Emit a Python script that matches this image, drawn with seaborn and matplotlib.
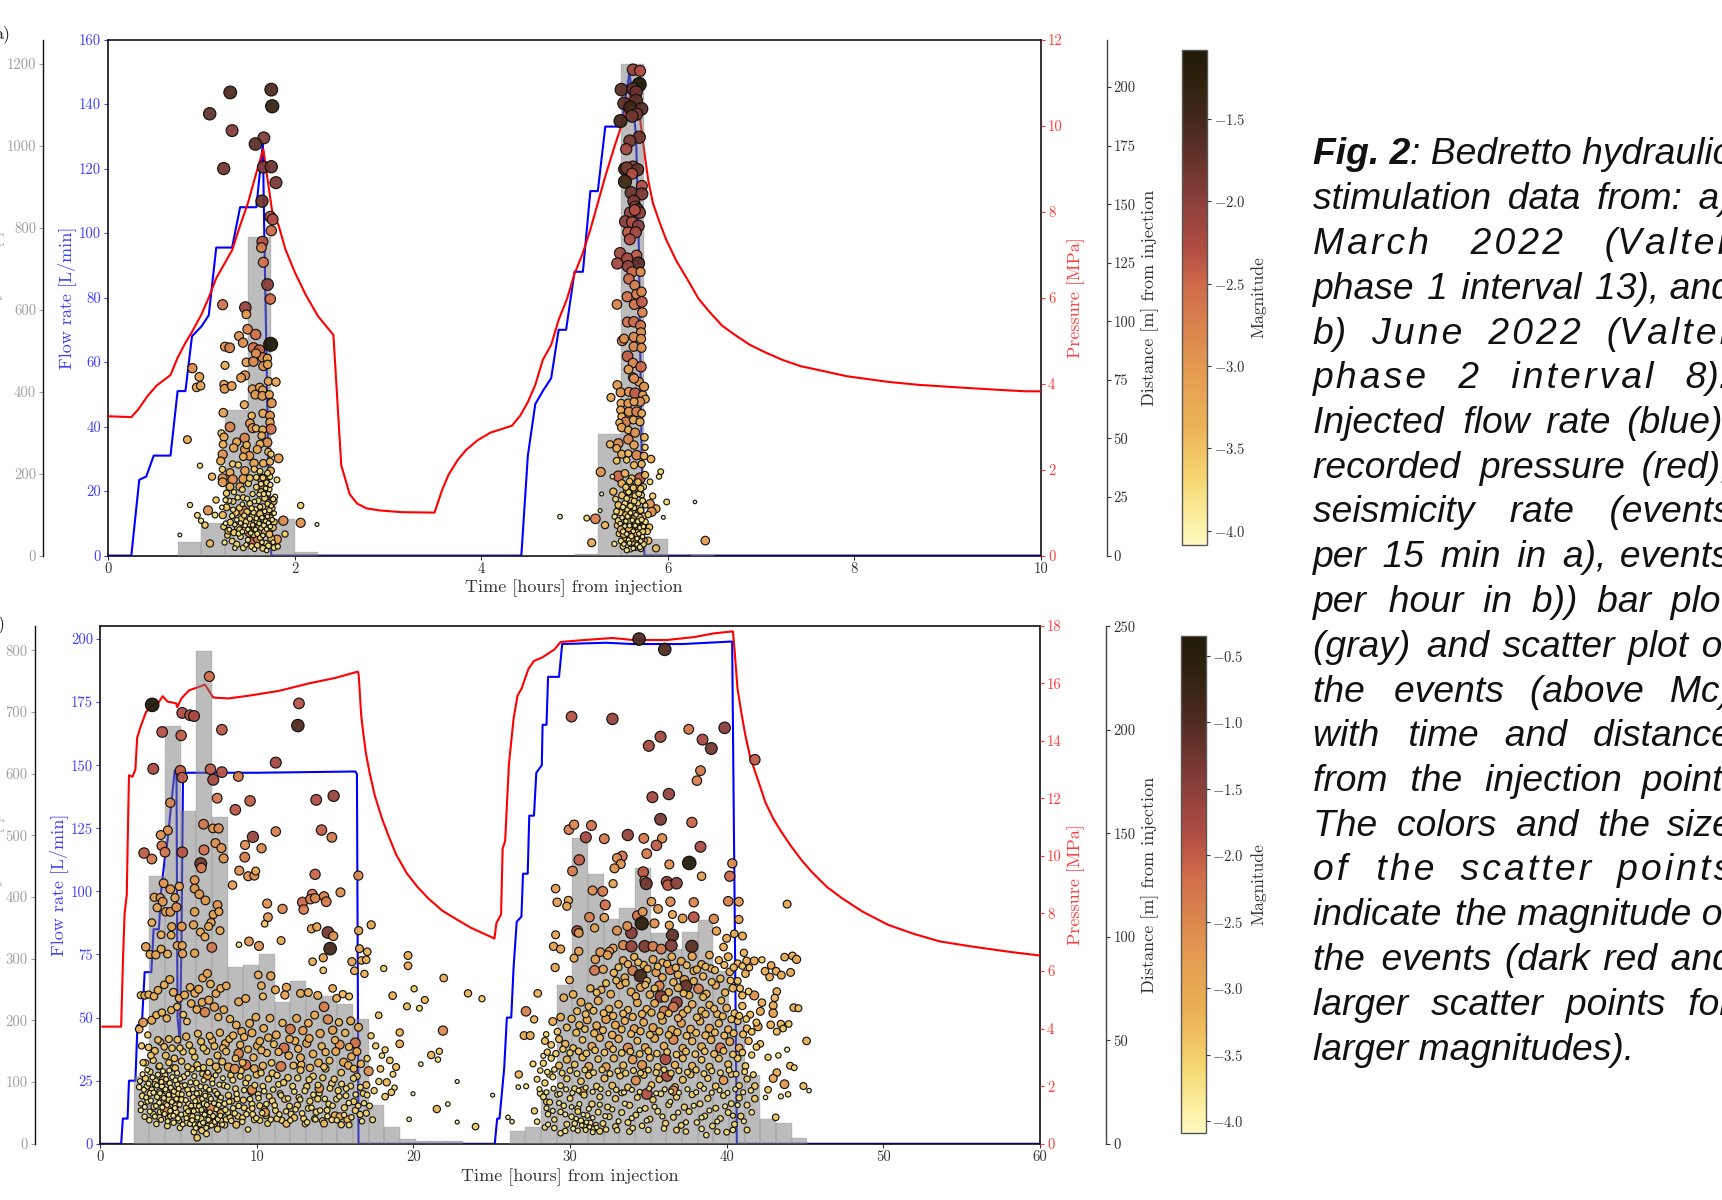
import numpy as np
import pandas as pd
import seaborn as sns
import matplotlib
matplotlib.use("Agg")
import matplotlib.pyplot as plt
from matplotlib.colors import LinearSegmentedColormap, Normalize
from matplotlib.cm import ScalarMappable

# ---------- panel a: hydraulic data ----------
a_flow_t = [0,0.25,0.335,0.41,0.49,0.67,0.746,0.83,0.9,1.0,1.08,1.16,1.33,1.416,1.59,1.66,1.675,1.7,1.72,1.75,4.43,4.5,4.58,4.66,4.75,4.83,4.91,5.0,5.09,5.17,5.25,5.33,5.5,5.59,5.66,5.69,5.72,5.75,10]
a_flow_q = [0,0,23.5,24.5,31,31,51,51,68,71,74.5,95.5,95.5,108,108,128,100,60,25,0,0,31,47,51,55,70,70,88,88,113,113,133,133,150,130,95,30,0,0]
a_pres_t = [0,0.25,0.325,0.42,0.52,0.67,0.746,0.83,0.9,1.0,1.08,1.16,1.33,1.42,1.5,1.59,1.665,1.7,1.76,1.83,1.9,2.0,2.12,2.25,2.416,2.5,2.59,2.67,2.77,2.91,3.15,3.5,3.58,3.65,3.75,3.84,3.96,4.1,4.33,4.42,4.5,4.58,4.66,4.75,4.83,4.92,5.0,5.09,5.17,5.25,5.33,5.42,5.5,5.62,5.7,5.75,5.79,5.84,5.91,5.98,6.09,6.2,6.33,6.45,6.58,6.72,6.88,7.04,7.23,7.43,7.5,7.92,8.36,8.69,9.12,9.5,9.83,10]
a_pres_p = [3.24,3.22,3.4,3.7,3.95,4.2,4.6,4.95,5.2,5.6,6.0,6.45,7.1,7.7,8.2,8.9,9.45,8.9,8.0,7.67,7.13,6.6,6.06,5.57,5.13,2.1,1.43,1.21,1.1,1.05,1.01,1.0,1.52,1.88,2.23,2.46,2.68,2.86,3.02,3.26,3.57,3.97,4.55,4.9,5.48,5.97,6.55,7.04,7.58,8.2,8.82,9.45,9.98,10.9,10.2,9.36,8.73,8.2,7.76,7.36,6.86,6.46,5.97,5.66,5.35,5.13,4.9,4.73,4.55,4.4,4.37,4.17,4.04,3.97,3.91,3.86,3.82,3.82]
a_bin_edges = [0.75,1.0,1.25,1.5,1.75,2.0,2.25,2.5,2.75,3.0,3.25,3.5,3.75,4.0,4.25,4.5,4.75,5.0,5.25,5.5,5.75,6.0,6.25,6.5]
a_bin_counts = [33,80,355,777,89,8,0,0,0,0,0,0,0,0,0,0,0,3,297,1200,40,0,2]

# ---------- panel a: events (time h, distance m, magnitude) ----------
a_upper_1 = [(1.09,188.6,-1.75),(1.31,197.7,-1.6),(1.75,198.9,-1.6),(1.76,191.8,-1.4),(1.33,181.4,-1.95),(1.67,178.3,-1.95),(1.58,175.7,-1.7),(1.24,165.2,-1.85),(1.665,165.8,-1.95),(1.75,166,-1.8),(1.8,159.2,-1.9),(1.65,151.3,-1.8),(1.74,144.6,-2.3),(1.765,143.5,-2.3),(1.75,138.7,-2.5),(1.655,134,-2.3),(1.645,131.5,-2.7),(1.665,125.2,-2.6),(1.71,115.7,-2.0),(1.74,109.5,-2.5)]
a_mid_1 = [(1.229,107.1,-2.6),(1.472,105.9,-2.1),(1.483,103,-3.0),(1.497,96.6,-2.75),(1.583,94.4,-2.55),(1.404,93.7,-2.95),(1.447,90.9,-2.85),(1.743,90.2,-1.08),(1.254,89.2,-2.95),(1.304,88.7,-2.7),(1.558,88.7,-2.55),(1.622,87.7,-2.45),(1.658,84.6,-2.8),(1.586,86.3,-2.9),(1.708,84.2,-3.1),(1.483,82.5,-3.05),(1.558,82.8,-2.8),(1.665,80.9,-2.9),(1.711,81.6,-3.1),(0.904,80,-2.85),(1.254,81.2,-3.2),(0.979,76.3,-3.0),(1.468,76.9,-2.85),(1.426,75.9,-3.0),(1.718,74.4,-3.2),(1.8,74.1,-3.1),(0.95,71.8,-3.05),(0.993,72.5,-3.1),(1.243,73,-3.1),(1.25,71.2,-3.0),(1.326,72.4,-3.0),(1.55,71,-3.0),(1.626,71.8,-3.1),(1.658,70.7,-3.2),(1.579,68.7,-3.0),(1.654,68.2,-3.0),(1.729,68.7,-3.2),(1.461,64.4,-3.2),(1.754,65.1,-2.9),(1.236,61,-3.05),(1.661,60.7,-3.15),(1.736,59.7,-2.95),(1.54,59.7,-3.4),(1.308,54.9,-2.75),(1.522,56.4,-3.0),(1.736,56.9,-3.1),(1.747,54,-2.6),(1.55,54.4,-2.9),(1.586,54.3,-3.4),(1.658,53.7,-3.3),(1.215,52.2,-3.45),(1.243,50.6,-3.2),(0.851,49.5,-3.25),(1.465,50.2,-2.8),(1.647,51.2,-3.3),(1.379,48.5,-3.2),(1.233,47.5,-3.3),(1.708,48.3,-2.9),(1.629,47.6,-3.3),(1.347,46,-3.1),(1.6,45.3,-3.2),(1.468,45.3,-3.0),(1.486,47.2,-3.4),(1.718,44.3,-3.4),(1.229,43.2,-2.9),(1.515,42.6,-3.0),(1.829,41.5,-3.0),(1.45,42.2,-3.3),(1.747,43.3,-3.6),(1.208,40.4,-3.2),(0.986,38.4,-3.8),(1.565,39.4,-3.1),(1.665,39.4,-3.3),(1.736,40.1,-3.4),(1.336,39.1,-3.6),(1.397,38.7,-3.6),(1.226,36.8,-3.6),(1.308,35.5,-3.3),(1.468,36.2,-3.1),(1.568,36.9,-3.6),(1.743,36.2,-3.3),(1.629,36,-3.7),(1.115,33.7,-3.4),(1.229,33,-2.9),(1.336,32.5,-2.85),(1.45,32.7,-3.0),(1.658,32.5,-2.6),(1.736,33.7,-3.7),(1.811,32.3,-3.7),(1.229,31.3,-3.0),(1.308,29.4,-3.3),(1.415,29.4,-3.2),(1.504,30.8,-3.6),(1.672,29.4,-2.7)]
a_low_1 = [(1.586,8.1,-2.4),(1.565,6,-2.5),(1.61,7.4,-2.6),(1.443,19.4,-2.7),(1.718,16.6,-2.7),(1.879,14.9,-2.85),(2.065,14,-2.9),(2.065,21.4,-3.6),(2.24,13.3,-4),(0.879,21.6,-3.8),(0.958,17.2,-3.7),(1.072,19.3,-2.9),(0.997,14.9,-3.8),(1.158,23.7,-3.6),(1.04,13,-3.6),(1.147,17.3,-3.7),(0.77,8.8,-4),(1.093,5.2,-3.4),(1.897,9.2,-3.6),(1.811,6.9,-3),(1.765,23.3,-3.0),(1.52,9.9,-2.8),
 (1.23,17.3,-3.4),(1.27,20.6,-3.5),(1.31,14.2,-3.6),(1.34,23.1,-3.7),(1.37,18.4,-3.5),(1.39,12.1,-3.5),(1.41,20.4,-3.6),(1.43,15.6,-3.5),(1.45,24.8,-3.7),(1.47,10.9,-3.4),(1.49,18.7,-3.6),(1.51,13.6,-3.5),(1.52,22.2,-3.7),(1.54,16.5,-3.6),(1.55,26.3,-3.8),(1.57,11.8,-3.6),(1.58,19.6,-3.7),(1.6,14.7,-3.5),(1.61,23.4,-3.7),(1.62,10.4,-3.7),(1.63,17.8,-3.5),(1.64,27.2,-3.6),(1.65,12.9,-3.4),(1.66,20.9,-3.7),(1.67,15.4,-3.6),(1.68,24.5,-3.6),(1.69,9.6,-3.7),(1.7,18.2,-3.5),(1.71,13.2,-3.6),(1.72,22.6,-3.7),(1.73,28.3,-3.8),(1.74,16.1,-3.6),(1.75,11.4,-3.7),(1.76,20.3,-3.7),(1.78,14.3,-3.6),(1.79,25.1,-3.8),
 (1.28,8.7,-3.7),(1.33,6.2,-3.7),(1.38,4.8,-3.6),(1.42,8.1,-3.7),(1.45,3.3,-3.7),(1.5,6.7,-3.8),(1.54,3.9,-3.7),(1.6,4.4,-3.7),(1.63,7.6,-3.8),(1.66,3.1,-3.7),(1.69,5.4,-3.8),(1.72,4.2,-3.7),(1.75,7.3,-3.5),(1.78,3.4,-3.7),(1.41,11.1,-3.7),(1.24,12.3,-3.7),(1.29,10.6,-3.5),(1.35,9.8,-3.6),(1.48,14.4,-3.7),(1.56,8.9,-3.7),(1.62,12.4,-3.5),(1.68,10.7,-3.4),(1.73,9.1,-3.5),(1.77,11.9,-3.6),(1.44,28.2,-3.7),(1.35,27.1,-3.8),(1.27,26.6,-3.6),(1.59,29.2,-3.7),(1.7,31.1,-3.7),(1.64,30.6,-3.8),(1.52,33.1,-3.5),(1.59,33.4,-3.7)]
a_extra_1 = [(1.26,13.8,-3.9),(1.3,11.1,-3.9),(1.33,16.9,-3.8),(1.36,13.2,-3.9),(1.38,15.3,-3.9),(1.4,9.4,-3.8),(1.42,13.9,-3.9),(1.44,10.2,-3.9),(1.46,17.1,-3.8),(1.47,12.8,-3.9),(1.5,11.2,-3.9),(1.52,15.7,-3.8),(1.53,9.6,-3.9),(1.55,13.1,-3.9),(1.56,18.4,-3.8),(1.58,11.1,-3.9),(1.59,15.9,-3.9),(1.6,9.3,-3.8),(1.62,13.7,-3.9),(1.63,20.8,-3.8),(1.64,11.7,-3.9),(1.65,16.2,-3.9),(1.66,8.6,-3.9),(1.67,12.9,-3.8),(1.68,18.9,-3.9),(1.69,14.7,-3.9),(1.7,11.3,-3.9),(1.71,22.1,-3.8),(1.71,16.7,-3.9),(1.72,13.9,-3.9),(1.73,19.4,-3.8),(1.74,12.4,-3.9),(1.75,21.2,-3.9),(1.76,15.3,-3.9),(1.77,24.1,-3.8),(1.78,18.1,-3.9),(1.67,26.3,-3.8),(1.69,28.7,-3.9),(1.72,26.4,-3.9),(1.74,30.2,-3.8),(1.66,33.2,-3.7),(1.71,35.2,-3.7),(1.62,26.1,-3.9),(1.57,23.1,-3.9),(1.54,20.2,-3.8),(1.49,24.3,-3.8),(1.44,21.9,-3.9),(1.39,24.8,-3.8),(1.34,19.6,-3.8),(1.3,23.4,-3.8),(1.26,23.7,-3.8),(1.22,20.6,-3.9),(1.25,5.6,-3.8),(1.36,3.2,-3.9),(1.48,4.6,-3.9),(1.57,2.7,-3.9),(1.65,5.7,-3.9),(1.7,2.2,-3.9),(1.77,5.7,-3.9),(1.82,3.9,-3.8)]
a_upper_2 = [(5.627,207.4,-2.1),(5.703,206.9,-2.3),(5.694,201.1,-1.08),(5.502,198.9,-1.7),(5.627,199.2,-1.7),(5.66,197.9,-1.8),(5.531,193,-1.7),(5.66,194.3,-1.7),(5.598,191.3,-1.45),(5.718,190.7,-1.65),(5.665,188.4,-1.9),(5.617,187.6,-1.8),(5.493,185.5,-1.5),(5.694,178.6,-1.8),(5.593,177,-1.9),(5.555,173.5,-2.2),(5.541,165,-1.6),(5.627,166,-2.1),(5.56,165.5,-1.9),(5.675,164.7,-1.75),(5.617,163,-2.3),(5.541,159.6,-1.45),(5.722,157.8,-2.3),(5.608,154.9,-1.8),(5.722,154.4,-1.9),(5.636,151.3,-1.9),(5.651,148.9,-2.1),(5.675,147.7,-1.9),(5.598,146.4,-2.1),(5.699,146.4,-2.1),(5.646,147.5,-2.3),(5.545,142.6,-2.0),(5.617,142.3,-2.3),(5.684,140.7,-2.0),(5.574,138,-2.4),(5.656,138,-2.2),(5.593,135,-2.3),(5.488,129.1,-2.2),(5.665,128.1,-2.4),(5.459,124.7,-2.2),(5.565,126.8,-2.2),(5.684,124.8,-1.7),(5.574,123.5,-2.1),(5.617,121.1,-2.5),(5.708,121.1,-2.9),(5.583,118.1,-2.5),(5.646,115.4,-2.7),(5.565,110.5,-2.6),(5.665,111.6,-2.7),(5.718,112.6,-2.8),(5.455,107.2,-2.75),(5.641,107.2,-2.6),(5.722,108.3,-2.4),(5.727,103.8,-2.8),(5.569,99.7,-2.6),(5.636,99.8,-2.5),(5.708,98.2,-2.6),(5.713,95.3,-2.9),(5.512,91.7,-2.7),(5.531,92.6,-2.9),(5.636,93.3,-2.8),(5.713,92.5,-2.9),(5.636,89.2,-2.8),(5.718,88.7,-2.9),(5.569,85.1,-2.4),(5.627,82.2,-2.8),(5.579,79.4,-3.0),(5.713,80.6,-2.5),(5.627,76.1,-2.9)]
a_mid_2 = [(5.459,72.8,-3.0),(5.495,69.7,-2.9),(5.391,67.5,-3.2),(5.691,74.2,-3.0),(5.745,72.1,-2.9),(5.638,75.6,-2.85),(5.584,69.9,-2.95),(5.649,69.3,-2.4),(5.731,68.5,-3.1),(5.759,66.8,-3.2),(5.702,65.7,-2.9),(5.499,65,-3.2),(5.577,65,-3.0),(5.638,65.7,-3.2),(5.495,62.1,-3.2),(5.584,61.4,-2.9),(5.666,61.4,-2.7),(5.72,60.7,-3.3),(5.506,59.3,-3.3),(5.552,57.1,-2.7),(5.481,56.7,-3.4),(5.631,57.9,-3.2),(5.702,57.1,-3.2),(5.506,54.7,-3.1),(5.577,53.6,-3.3),(5.649,52.5,-2.9),(5.749,50.5,-3.3),(5.381,47.5,-3.4),(5.47,47.9,-2.8),(5.577,49.6,-2.8),(5.638,47.2,-3.1),(5.756,46.2,-3.6),(5.452,45.8,-3.3),(5.506,43.3,-3.2),(5.577,43.6,-3.4),(5.666,42.9,-2.8),(5.745,42.5,-3.3),(5.452,40.5,-3.5),(5.559,40.8,-3.6),(5.638,38.6,-3.4),(5.72,39.1,-3.4),(5.82,41.2,-3.3),(5.281,35.7,-2.9),(5.47,33.9,-2.5),(5.406,33.7,-3.9),(5.924,35.8,-3.7),(5.906,33.7,-3.8),(5.702,33,-2.4),(5.541,35.1,-3.3),(5.613,33,-3.5),(5.756,34.4,-3.4),(5.809,31.5,-3.7),(5.838,25.4,-3.6),(5.291,26.3,-4),(5.577,27.7,-2.8),(5.416,27.3,-3.4),(5.666,29.4,-2.9),(5.506,30.8,-3.3),(5.738,29.4,-3.6),(5.988,22.9,-3.7),(6.291,22.9,-4.05),(5.274,19.2,-4),(5.874,20,-3.2),(5.809,22,-2.95),(5.827,18.7,-2.9),(5.952,16.3,-4),(5.131,16,-3.7),(4.845,16.6,-3.9),(5.224,15.7,-2.75),(5.327,13,-3.4),(5.802,12.1,-3.5),(5.184,5.5,-3.2),(5.874,3.1,-3.4),(6.402,6.4,-3.05),(5.791,6.4,-3.4),(5.427,5,-3.8)]
a_low_2 = [(5.44,24.1,-3.7),(5.47,21.6,-3.5),(5.49,18.4,-3.6),(5.51,25.7,-3.5),(5.53,15.2,-3.3),(5.54,22.3,-3.7),(5.56,12.6,-3.2),(5.57,19.4,-3.6),(5.58,27.1,-3.7),(5.59,9.7,-3.1),(5.6,16.3,-3.3),(5.61,23.6,-3.6),(5.62,13.4,-3.5),(5.63,20.1,-3.7),(5.64,7.6,-3.6),(5.65,25.5,-3.6),(5.66,11.1,-3.4),(5.67,17.7,-3.5),(5.68,22.4,-3.7),(5.69,14.5,-3.6),(5.7,8.9,-3.7),(5.71,19.3,-3.6),(5.72,25.8,-3.7),(5.73,12.4,-3.5),(5.74,16.9,-3.6),(5.75,6.5,-3.7),(5.76,21.4,-3.8),(5.78,10.3,-3.6),(5.46,12.9,-3.6),(5.48,9.4,-3.6),(5.5,6.2,-3.7),(5.52,3.9,-3.7),(5.55,7.7,-3.5),(5.57,4.6,-3.7),(5.59,14.6,-3.4),(5.6,2.8,-3.7),(5.61,10.9,-3.3),(5.62,5.7,-3.6),(5.63,8.4,-3.4),(5.65,3.4,-3.7),(5.66,6.9,-3.7),(5.68,4.3,-3.7),(5.69,11.6,-3.4),(5.71,2.9,-3.7),(5.72,7.4,-3.6),(5.74,4.9,-3.7),(5.43,16.6,-3.8),(5.45,18.9,-3.7),(5.47,14.9,-3.6),(5.5,11.2,-3.4),(5.53,9.1,-3.4),(5.55,17.3,-3.5),(5.58,11.8,-3.3),(5.6,7.3,-3.3),(5.62,18.5,-3.5),(5.64,15.7,-3.4),(5.66,13.9,-3.3),(5.67,9.6,-3.3),(5.7,16.2,-3.5),(5.73,10.2,-3.6),(5.76,14.4,-3.7),(5.79,17.5,-3.6)]
a_extra_2 = [(5.49,13.7,-3.9),(5.51,16.2,-3.9),(5.52,10.3,-3.8),(5.54,12.6,-3.9),(5.55,14.7,-3.9),(5.56,9.2,-3.9),(5.57,16.7,-3.8),(5.58,6.7,-3.9),(5.59,12.8,-3.9),(5.6,18.2,-3.9),(5.61,8.3,-3.8),(5.62,15.1,-3.9),(5.63,10.4,-3.9),(5.64,20.3,-3.8),(5.65,12.8,-3.9),(5.66,17.4,-3.9),(5.67,7.3,-3.9),(5.68,14.6,-3.8),(5.69,9.3,-3.9),(5.7,11.9,-3.9),(5.71,6.2,-3.9),(5.72,15.3,-3.8),(5.73,8.1,-3.9),(5.74,12.4,-3.9),(5.53,4.9,-3.9),(5.56,2.3,-3.8),(5.59,5.3,-3.9),(5.63,3.1,-3.9),(5.67,4.7,-3.9),(5.7,3.6,-3.8),(5.52,20.7,-3.8),(5.56,24.4,-3.7),(5.6,21.2,-3.7),(5.64,23.3,-3.7),(5.69,26.4,-3.7),(5.73,23.4,-3.7),(5.55,29.2,-3.6),(5.59,31.7,-3.6),(5.63,28.9,-3.6),(5.68,31.4,-3.5),(5.71,28.6,-3.6)]

# ---------- panel b: hydraulic data ----------
b_flow_t = [0,1.35,1.46,1.76,1.85,2.26,2.39,2.67,2.85,3.28,3.42,3.76,3.9,4.17,4.31,4.77,4.88,4.95,5.1,5.2,5.3,5.5,10,16.3,16.4,16.5,25.2,25.35,25.5,25.8,25.97,26.25,26.4,26.6,26.9,27.0,27.3,27.4,27.7,27.85,28.2,28.25,28.5,28.6,29.3,29.5,32.3,34,37.2,40.35,40.5,40.65,60]
b_flow_q = [0,0,10,10,25,25,47,47,68,68,85,85,100,115,120,148,148,50,40,80,146,147,147,147.5,146.5,0,0,10,10,30,50,50,70,88,90,107,107,130,130,147,150,166,166,185,185,198,198.5,198,198,199,100,0,0]
b_pres_t = [0.14,1.35,1.46,1.57,1.71,1.76,1.85,2.07,2.26,2.37,2.6,2.94,3.4,3.74,4.0,4.31,4.86,4.93,5.2,5.68,6.25,6.7,7.23,8.2,9.55,11.4,13.4,15,16.45,16.51,16.58,16.67,16.81,16.97,17.2,17.54,17.99,18.45,18.9,19.59,20.27,20.96,21.87,22.78,23.69,25.18,25.3,25.6,25.7,25.86,26.1,26.4,26.65,26.9,27.35,27.7,28.25,29,29.4,30.7,32.7,34,36.2,37.9,39.2,40.4,40.52,40.69,40.92,41.18,41.5,41.99,42.48,42.97,43.46,44.12,44.77,45.42,46.4,47.39,48.69,50.33,51.96,53.6,55.56,58.17,60]
b_pres_p = [4.07,4.07,6.26,8.0,8.66,10.25,12.8,12.75,13.0,14.1,14.5,15.0,15.25,15.33,15.55,15.36,15.3,15.17,15.47,15.75,15.86,15.95,15.5,15.47,15.57,15.73,16.0,16.18,16.4,16.3,15.7,14.9,14.24,13.58,12.91,12.1,11.31,10.65,10.05,9.39,8.92,8.52,8.09,7.79,7.5,7.13,7.66,7.97,10.25,10.52,13.18,14.77,15.57,15.8,16.5,16.77,16.9,17.17,17.43,17.49,17.57,17.5,17.5,17.6,17.73,17.8,17.03,15.83,15.03,14.23,13.43,12.65,11.85,11.3,10.86,10.33,9.86,9.45,8.92,8.52,8.06,7.6,7.29,7.03,6.86,6.66,6.54]
b_bin_edges = [2.15,3.15,4.15,5.15,6.15,7.15,8.15,9.15,10.15,11.15,12.15,13.15,14.15,15.15,16.15,17.15,18.15,19.15,20.15,21.15,22.15,23.15,24.15,25.15,26.15,27.15,28.15,29.15,30.15,31.15,32.15,33.15,34.15,35.15,36.15,37.15,38.15,39.15,40.15,41.15,42.15,43.15,44.15,45.15]
b_bin_counts = [110,434,677,540,799,529,287,290,307,230,264,240,239,227,202,63,27,8,4,4,4,0,0,0,20,27,87,258,496,437,364,383,447,341,316,344,363,280,199,112,41,34,9]

# ---------- panel b: events (time h, distance m, magnitude) ----------
b_strong_1 = [(3.33,212.1,-0.36),(6.98,225.8,-2.2),(12.7,212.8,-1.9),(12.63,202.1,-1.0),(5.25,208.2,-1.85),(5.75,207.1,-1.9),(6.0,206.7,-1.8),(7.78,200.1,-1.95),(3.97,199,-1.9),(5.18,197.3,-2.0),(11.22,184.2,-1.75),(3.4,181.2,-1.8),(5.13,180.3,-2.0),(5.25,177,-2.0),(7.05,181,-2.0),(7.78,179.6,-1.9),(7.23,175.9,-1.75),(8.83,177.5,-2.3),(7.48,167,-2.3),(9.58,165.7,-2.0),(13.8,166.2,-1.85),(14.91,168.1,-1.65),(4.49,164.8,-2.5),(8.64,161.4,-1.95),(6.61,154.4,-2.3),(4.33,151.4,-2.6),(7.21,152.4,-2.7),(7.57,152.4,-2.5),(3.88,149.2,-2.6),(11.22,150.9,-2.4),(14.14,151.6,-2.0),(14.8,148.1,-2.3),(9.76,148.3,-1.65),(7.37,145.3,-2.6),(9.26,144.4,-2.6),(10.31,142.8,-2.5),(7.75,142.9,-2.6),(3.95,144,-2.3),(4.15,140.9,-2.3),(2.81,140.5,-2.0),(6.64,142,-2.2),(5.25,140.9,-1.95),(7.89,137.9,-2.6),(3.31,137.6,-2.3),(9.24,138.5,-2.3),(6.43,135.4,-1.3),(6.47,133.3,-2.4),(8.89,132,-2.6),(9.46,129.3,-2.6),(9.85,129.6,-2.6),(9.94,131.8,-3.0),(13.73,130.2,-2.1),(16.49,129.6,-2.55)]
b_mid_1 = [(6.04,127.4,-2.7),(4.06,125.9,-2.7),(5.06,124.4,-2.9),(6.04,123.3,-2.7),(8.46,125,-2.8),(4.49,123,-2.7),(6.34,120.6,-2.7),(3.47,119.1,-2.9),(3.84,118.9,-2.9),(4.0,117,-2.7),(4.79,118.9,-2.9),(6.73,117.6,-2.7),(7.5,115.4,-2.7),(10.67,116.1,-2.6),(11.65,113.5,-2.5),(13.55,120.6,-2.3),(14.3,119.5,-2.4),(15.35,121.5,-2.6),(12.93,116.7,-2.1),(13.43,118.2,-2.4),(13.73,118.7,-2.5),(14.44,117,-2.3),(13,113.2,-2.4),(10.72,109.5,-2.7),(3.65,114.1,-2.9),(4.2,112.1,-2.8),(4.49,112.1,-2.7),(4.88,114.3,-2.6),(6.04,112.1,-2.8),(7.23,110.8,-2.9),(7.59,112.2,-3.0),(10.51,106.3,-3.4),(3.31,106.9,-3.1),(7.09,106.9,-2.9),(5.97,105.8,-2.9),(5.22,105,-2.7),(4.58,104.9,-2.9),(7.66,103,-3.0),(6.93,105,-3.0),(17.31,105.8,-2.9),(16.51,103,-2.9),(13.5,103.9,-2.9),(13.84,104.8,-2.9),(14.55,102.1,-1.35),(14.89,100.4,-2.6),(14.69,94.3,-0.9),(3.9,101,-3.1),(4.54,100.8,-3.1),(6.41,102.3,-3.0),(6.7,100,-3.0),(7.14,94.9,-2.3),(2.92,95.2,-2.8),(3.9,94.1,-3.0),(4.93,95.8,-3.0),(5.25,95.8,-3.0),(5.27,91.9,-2.9),(3.19,91.5,-3.0),(3.56,91.3,-2.9),(4.31,91.7,-3.0),(6.04,92.1,-2.9),(8.87,96.2,-3.7),(9.51,97.8,-2.7),(10.15,95.6,-2.6),(11.56,98.2,-3.0),(14.25,89.9,-2.9),(13.57,88,-3.1),(14.25,83.8,-3.4),(16.56,94.3,-3.0),(17.06,92.8,-3.1),(16.69,88.6,-3.1),(16.99,88.9,-3.1),(16.08,88,-2.9)]
b_tail_1 = [(19.66,91,-3.0),(19.66,86,-3.1),(18.11,84.7,-3.5),(16.24,83.6,-3.1),(16.88,82.1,-3.2),(21.94,80.1,-3.1),(20.05,74.9,-3.5),(23.49,72.7,-3.2),(24.38,70.1,-3.5),(20.73,69.5,-3.3),(18.68,71.6,-3.1),(19.59,66.4,-3.3),(20.39,65.5,-3.6),(17.79,62.1,-3.4),(21.89,54.7,-2.5),(19.13,53.8,-3.2),(19.13,48.3,-3.1),(21.14,42.9,-3.2),(21.66,44.7,-3.5),(21.57,40.7,-3.7),(20.48,38.5,-3.9),(19.98,24.2,-4.0),(22.8,30.1,-4.0),(21.5,16.8,-3.2),(22.2,19.2,-3.9),(25.06,23.5,-4.0),(22.8,10.5,-4.0),(19.73,11.8,-3.9),(23.97,8.3,-3.4),(18.2,45.4,-3.5),(18.5,40.3,-3.4),(18.9,37.1,-3.3),(18.0,42.6,-3.7),(18.7,33.6,-3.6),(18.3,29.7,-3.2),(18.8,27.1,-3.7),(18.6,24.9,-3.4),(18.2,22.8,-3.4),(17.9,36.2,-3.4),(17.6,47.3,-3.5),(17.3,52.2,-3.5),(17.8,30.1,-3.5),(17.5,25.7,-3.5),(17.2,18.3,-3.6),(17.0,14.8,-3.5),(17.4,11.6,-3.6)]
b_band_1 = [(2.6,71.8,-3.3),(2.85,71.7,-3.1),(3.1,72.1,-3.2),(3.45,71.3,-3.1),(3.7,74.2,-3.1),(4.1,76.8,-3.1),(4.45,79.4,-3.0),(4.68,73.2,-3.0),(5.05,70.3,-3.1),(5.4,71.9,-3.0),(5.75,75.6,-3.1),(6.05,72.8,-3.0),(6.3,74.7,-3.0),(6.55,80.1,-3.0),(6.85,82.3,-2.9),(7.05,77.2,-3.1),(7.4,72.6,-3.1),(7.7,75.1,-3.1),(8.06,76.3,-3.1),(8.85,68.6,-3.0),(9.3,70.2,-3.0),(10.1,81.6,-3.1),(10.3,76.4,-3.1),(10.4,71.2,-3.3),(10.9,81.1,-2.9),(11.2,74.4,-3.0),(11.9,75.6,-2.9),(11.8,71.9,-2.9),(12.8,72.7,-3.0),(13.3,73.1,-3.0),(13.9,71.7,-3.0),(14.3,66.2,-2.4),(14.85,75.1,-3.1),(15.1,70.3,-3.1),(15.5,72.3,-3.2),(15.9,71.2,-3.3),
 (2.5,55.4,-3.1),(2.75,58.6,-2.7),(3.05,52.6,-3.5),(3.3,59.7,-3.0),(3.6,62.2,-3.2),(3.95,63.4,-3.2),(4.26,60.6,-3.2),(4.55,64.6,-3.2),(4.92,66.2,-3.3),(5.32,62.4,-3.4),(5.55,59.1,-3.4),(5.82,67.8,-3.1),(6.18,64.9,-3.1),(6.52,68.4,-3.0),(6.7,63.6,-2.4),(6.95,69.4,-2.9),(7.3,66.1,-2.8),(7.55,61.2,-3.2),(7.9,64.8,-3.1),(8.3,60.3,-3.2),(8.7,57.4,-3.1),(9.05,54.3,-3.0),(9.55,58.2,-3.0),(9.95,61.2,-3.1),(10.45,55.8,-3.1),(10.85,60.7,-3.1),(11.25,52.6,-3.0),(11.65,58.4,-3.2),(12.15,55.4,-2.3),(12.55,60.6,-3.0),(12.95,54.7,-2.9),(13.3,58.3,-3.1),(13.7,62.2,-3.0),(14.05,53.3,-2.9),(14.55,60.1,-2.5),(14.85,54.9,-2.9),(15.25,58.7,-3.2),(15.65,53.6,-3.2),(16.0,59.4,-3.0),(16.3,48.7,-2.2),(16.5,56.3,-3.0),(15.3,47.9,-2.6),(13.2,48.6,-2.9),(11.75,46.3,-2.2),(10.05,47.3,-3.0),(8.85,43.6,-2.4),(8.0,48.4,-3.0),
 (2.65,47.3,-3.5),(3.1,46.6,-3.4),(3.5,44.9,-3.3),(3.85,49.3,-3.4),(4.2,42.6,-3.3),(4.6,46.2,-3.4),(4.95,50.3,-3.3),(5.3,44.4,-3.5),(5.7,47.7,-3.4),(6.05,41.9,-3.5),(6.45,49.4,-3.3),(6.8,44.8,-3.4),(7.15,50.1,-3.2),(7.5,42.7,-3.3),(7.85,46.2,-3.3),(8.25,50.6,-3.3),(8.65,41.3,-3.4),(9.3,38.1,-2.2),(9.45,45.6,-3.3),(9.8,41.7,-3.2),(10.2,49.6,-3.1),(10.65,43.9,-3.2),(11.1,48.1,-3.3),(11.55,37.4,-2.3),(12.05,42.6,-3.1),(12.45,49.7,-3.1),(12.85,38.2,-3.2),(13.6,43.4,-3.1),(14.15,47.1,-3.2),(14.65,40.2,-3.3),(15.05,44.6,-3.0),(15.55,39.4,-2.9),(16.05,42.1,-3.1),(16.65,38.6,-3.2),(17.15,35.1,-2.6),(17.05,41.2,-3.5)]
b_dense_1 = [(2.5,27.4,-3.7),(2.7,23.1,-3.6),(2.9,31.6,-3.5),(3.05,20.6,-3.6),(3.2,34.8,-3.6),(3.3,26.2,-3.7),(3.45,17.9,-3.5),(3.55,30.4,-3.6),(3.65,22.7,-3.7),(3.75,37.2,-3.6),(3.85,15.4,-3.6),(3.95,27.8,-3.7),(4.05,20.4,-3.6),(4.15,33.1,-3.6),(4.25,24.9,-3.5),(4.35,12.6,-3.7),(4.45,29.3,-3.7),(4.55,18.2,-3.7),(4.65,36.7,-3.6),(4.75,23.6,-3.6),(4.85,15.3,-3.6),(4.95,28.7,-3.7),(5.05,11.2,-3.7),(5.2,21.4,-3.6),(5.35,32.4,-3.6),(5.5,17.3,-3.6),(5.6,26.1,-3.6),(5.72,13.4,-3.6),(5.85,36.1,-3.5),(5.95,22.3,-3.6),(6.05,9.3,-3.6),(6.15,29.4,-3.6),(6.25,16.7,-3.5),(6.35,24.6,-3.7),(6.45,12.1,-3.6),(6.55,33.8,-3.6),(6.65,19.4,-3.6),(6.75,27.3,-3.7),(6.85,14.2,-3.5),(6.95,22.6,-3.6),(7.05,10.3,-3.6),(7.15,31.2,-3.6),(7.25,17.8,-3.6),(7.35,25.4,-3.7),(7.45,12.9,-3.6),(7.55,35.7,-3.5),(7.65,20.8,-3.6),(7.75,15.6,-3.6),(7.9,28.3,-3.6),(8.05,11.7,-3.6),(8.2,23.4,-3.5),(8.35,33.1,-3.5),(8.5,17.2,-3.7),(8.65,26.6,-3.6),(8.8,13.4,-3.5),(9.0,35.3,-3.4),(9.15,21.1,-3.5),(9.3,29.4,-3.6),(9.5,15.9,-3.6),(9.65,24.9,-3.5),(9.85,11.6,-3.6),(10.0,33.4,-3.3),(10.2,18.4,-3.5),(10.4,27.8,-3.6),(10.6,13.7,-3.4),(10.8,22.9,-3.6),(11.0,34.1,-3.4),(11.2,16.1,-3.6),(11.4,28.7,-3.6),(11.6,11.4,-3.5),(11.8,21.6,-3.4),(12.0,31.9,-3.4),(12.2,14.3,-3.5),(12.4,25.2,-3.7),(12.6,18.6,-3.5),(12.8,35.6,-3.3),(13.0,12.2,-3.6),(13.2,27.7,-3.5),(13.4,20.6,-3.5),(13.6,32.6,-3.4),(13.8,15.3,-3.5),(14.0,24.4,-3.6),(14.2,11.1,-3.5),(14.4,36.3,-3.3),(14.6,19.2,-3.6),(14.8,29.1,-3.4),(15.0,13.6,-3.1),(15.2,25.7,-3.5),(15.4,34.4,-3.4),(15.6,17.4,-3.5),(15.8,11.7,-3.2),(16.0,27.9,-3.6),(16.2,20.4,-3.5),(16.4,32.6,-3.4),(16.6,14.2,-3.5),(16.8,24.3,-3.6),(17.0,28.4,-3.3),
 (2.6,16.2,-3.8),(2.85,13.1,-3.7),(3.15,11.4,-3.7),(3.4,14.3,-3.6),(3.6,9.6,-3.7),(3.8,12.7,-3.6),(4.1,15.8,-3.3),(4.3,8.7,-3.6),(4.5,13.4,-3.6),(4.7,10.2,-3.7),(4.9,18.9,-3.3),(5.1,7.7,-3.7),(5.55,10.3,-3.6),(5.8,15.9,-3.7),(6.0,5.7,-3.6),(6.2,2.9,-3.4),(6.3,9.3,-3.6),(6.5,6.4,-3.5),(6.6,15.1,-3.5),(6.8,4.8,-3.6),(6.9,8.6,-3.6),(7.1,13.3,-3.3),(7.3,9.7,-3.6),(7.5,7.1,-3.5),(7.7,14.8,-3.3),(7.95,9.1,-3.5),(8.3,12.7,-3.6),(8.7,9.2,-3.3),(9.1,12.6,-3.6),(9.45,6.9,-3.7),(9.75,14.2,-3.6),(10.2,11.3,-3.6),(10.7,9.8,-3.6),(11.3,12.2,-3.5),(11.9,9.7,-3.3),(12.4,12.6,-3.4),(13.1,9.6,-3.6),(13.7,12.1,-3.5),(14.3,9.8,-3.3),(14.8,11.6,-3.6),(15.3,13.2,-3.2),(15.4,9.2,-3.5),(15.9,9.1,-3.6),
 (3.0,27.7,-3.6),(3.2,24.4,-3.6),(3.5,28.8,-3.7),(3.8,25.1,-3.6),(4.0,23.2,-3.6),(4.2,19.3,-3.7),(4.4,21.4,-3.5),(4.6,26.1,-3.6),(4.8,18.6,-3.7),(5.0,24.3,-3.6),(5.25,27.9,-3.6),(5.45,14.4,-3.6),(5.65,19.4,-3.7),(5.9,13.2,-3.7),(6.1,18.6,-3.7),(6.3,21.2,-3.6),(6.5,15.4,-3.7),(6.7,24.1,-3.6),(6.9,18.1,-3.6),(7.1,20.3,-3.6),(7.3,14.4,-3.6),(7.5,23.8,-3.6),(7.7,11.2,-3.6),(7.95,19.4,-3.7),(8.15,15.2,-3.6),(8.4,20.6,-3.6),(8.75,21.7,-3.6),(9.2,17.4,-3.6),(9.7,19.2,-3.6),(10.1,23.9,-3.6),(10.5,16.6,-3.5),(11.0,20.7,-3.5),(11.5,24.3,-3.6),(12.1,18.2,-3.6),(12.7,22.4,-3.6),(13.3,17.1,-3.6),(13.9,21.7,-3.5),(14.5,16.2,-3.6),(15.1,21.6,-3.6),(15.7,23.2,-3.6),(16.3,16.1,-3.5),(4.3,16.4,-2.6),(4.05,30.7,-2.8),(7.1,17.2,-2.6),(6.85,32.9,-2.9),(9.7,26.1,-2.6),(10.55,15.2,-2.9),(14.0,26.8,-2.8),
 (2.9,39.1,-3.4),(3.4,40.3,-3.5),(3.8,37.6,-3.5),(4.4,39.2,-3.5),(4.8,36.6,-3.4),(5.2,39.9,-3.5),(5.6,37.2,-3.5),(6.2,38.1,-3.4),(6.6,36.8,-3.5),(7.0,39.4,-3.3),(7.4,37.3,-3.2),(7.8,39.7,-3.3),(8.2,37.1,-2.9),(8.6,36.2,-2.6),(9.1,39.2,-3.3),(9.85,36.4,-3.1),(10.4,37.7,-3.2),(10.95,39.1,-3.4),(12.35,37.8,-3.3),(12.8,41.6,-3.0),(13.4,36.7,-3.2),(13.95,39.1,-3.0),(14.3,37.2,-3.4),(15.85,37.9,-3.1),(16.2,36.3,-3.3)]
b_extra_1 = [(2.55,30.3,-3.8),(2.62,19.4,-3.8),(2.72,33.6,-3.8),(2.8,26.1,-3.8),(2.86,17.8,-3.8),(2.95,22.4,-3.8),(3.02,35.7,-3.8),(3.1,29.1,-3.8),(3.18,15.6,-3.8),(3.25,20.9,-3.8),(3.35,32.1,-3.8),(3.42,24.7,-3.8),(3.5,13.2,-3.8),(3.58,18.3,-3.8),(3.62,28.2,-3.8),(3.7,33.4,-3.8),(3.78,19.9,-3.8),(3.83,24.4,-3.8),(3.9,11.6,-3.8),(3.92,29.9,-3.8),(3.98,17.6,-3.8),(4.02,35.1,-3.8),(4.08,22.1,-3.8),(4.12,14.4,-3.8),(4.18,26.3,-3.8),(4.22,31.2,-3.8),(4.28,18.7,-3.8),(4.32,10.9,-3.8),(4.38,23.7,-3.8),(4.42,35.4,-3.8),(4.48,15.9,-3.8),(4.52,27.1,-3.8),(4.58,20.2,-3.8),(4.62,32.2,-3.8),(4.68,13.6,-3.8),(4.72,25.3,-3.8),(4.78,17.3,-3.8),(4.82,30.7,-3.8),(4.88,21.7,-3.8),(4.92,34.2,-3.8),(4.98,12.3,-3.8),(5.02,26.6,-3.8),(5.08,18.9,-3.8),(5.12,31.4,-3.8),(5.18,14.1,-3.8),(5.22,23.9,-3.8),(5.28,9.4,-3.8),(5.42,28.3,-3.8),(5.48,21.1,-3.8),(5.52,12.4,-3.8),(5.58,33.9,-3.8),(5.62,15.7,-3.8),(5.68,24.1,-3.8),(5.74,9.6,-3.8),(5.78,29.7,-3.8),(5.82,18.4,-3.8),(5.88,11.4,-3.8),(5.92,26.4,-3.8),(5.98,15.8,-3.8),(6.02,32.7,-3.8),(6.08,20.6,-3.8),(6.12,7.6,-3.8),(6.18,24.3,-3.8),(6.22,12.7,-3.8),(6.28,36.2,-3.8),(6.32,18.2,-3.8),(6.38,9.4,-3.8),(6.42,27.7,-3.8),(6.48,16.4,-3.8),(6.52,21.8,-3.8),(6.58,10.2,-3.8),(6.62,30.7,-3.8),(6.68,14.1,-3.8),(6.72,23.2,-3.8),(6.78,7.7,-3.8),(6.82,18.8,-3.8),(6.88,34.4,-3.8),(6.92,11.6,-3.8),(6.98,26.1,-3.8),(7.02,15.2,-3.8),(7.08,21.7,-3.8),(7.12,8.9,-3.8),(7.18,29.1,-3.8),(7.22,13.4,-3.8),(7.28,19.6,-3.8),(7.32,10.6,-3.8),(7.38,33.1,-3.8),(7.42,16.7,-3.8),(7.48,24.2,-3.8),(7.52,11.9,-3.8),(7.58,18.8,-3.8),(7.62,28.6,-3.8),(7.68,13.6,-3.8),(7.72,22.4,-3.8),(7.8,9.3,-3.8),(7.85,31.7,-3.8),
 (8.0,16.4,-3.7),(8.12,27.6,-3.7),(8.25,20.4,-3.7),(8.38,11.1,-3.7),(8.48,30.8,-3.6),(8.6,14.7,-3.7),(8.72,24.1,-3.7),(8.85,18.3,-3.7),(8.95,32.6,-3.6),(9.08,10.6,-3.7),(9.2,25.9,-3.7),(9.35,14.3,-3.7),(9.45,31.8,-3.5),(9.58,21.6,-3.7),(9.72,17.1,-3.7),(9.88,28.3,-3.6),(9.98,12.4,-3.7),(10.12,22.1,-3.7),(10.28,34.2,-3.5),(10.35,14.9,-3.7),(10.48,25.4,-3.7),(10.62,19.2,-3.7),(10.75,31.3,-3.5),(10.9,11.7,-3.7),(11.05,26.2,-3.7),(11.15,18.6,-3.7),(11.3,33.1,-3.5),(11.45,14.2,-3.7),(11.55,23.4,-3.7),(11.72,29.6,-3.5),(11.88,15.7,-3.7),(12.0,21.9,-3.7),(12.15,11.3,-3.7),(12.3,27.8,-3.6),(12.48,16.6,-3.7),(12.62,31.8,-3.5),(12.78,21.4,-3.7),(12.9,14.7,-3.7),(13.08,25.6,-3.6),(13.22,10.4,-3.7),(13.35,30.9,-3.5),(13.5,17.4,-3.7),(13.62,23.7,-3.7),(13.75,11.8,-3.7),(13.92,28.4,-3.6),(14.05,16.1,-3.7),(14.22,31.9,-3.5),(14.35,21.7,-3.7),(14.52,13.3,-3.7),(14.68,26.8,-3.6),(14.85,18.4,-3.7),(14.95,31.2,-3.5),(15.12,11.4,-3.7),(15.28,22.9,-3.7),(15.42,28.9,-3.6),(15.58,13.9,-3.7),(15.72,26.7,-3.6),(15.88,19.7,-3.7),(16.05,12.8,-3.7),(16.18,31.6,-3.5),(16.32,23.8,-3.7),(16.48,18.4,-3.7),(16.62,27.3,-3.6),(16.72,10.9,-3.7),(16.85,19.6,-3.7),(17.05,23.6,-3.6),(8.05,44.6,-3.3),(8.5,52.3,-3.2),(8.95,47.8,-3.2),(9.2,51.6,-3.2),(9.7,53.6,-3.0),(10.3,45.2,-3.2),(10.75,51.3,-3.1),(11.4,44.4,-3.2),(12.1,50.6,-3.1),(12.65,45.9,-3.2),(13.35,50.9,-3.0),(14.4,44.3,-3.2),(15.0,50.1,-3.2),(15.9,46.8,-3.2),(16.4,44.6,-3.0),
 (2.75,39.2,-3.5),(3.25,42.7,-3.4),(3.7,50.2,-3.4),(4.1,46.9,-3.4),(4.4,50.6,-3.3),(4.75,41.3,-3.4),(5.1,46.3,-3.5),(5.5,51.8,-3.2),(5.9,44.7,-3.4),(6.25,53.2,-3.3),(6.6,46.3,-3.4),(7.0,52.1,-3.3),(7.3,47.2,-3.3),(7.65,53.7,-3.2)]
b_strong_2 = [(34.41,243.9,-0.95),(36.05,238.9,-1.0),(30.1,206.4,-1.9),(32.71,205.3,-1.6),(37.58,200.3,-2.3),(39.87,201,-1.5),(35.78,196.7,-1.7),(38.46,195.3,-1.8),(35.03,192.3,-1.75),(39.02,191,-1.3),(41.8,185.6,-2.0),(38.33,180.3,-2.3),(38.1,175.5,-2.4),(35.26,167.5,-1.75),(36.31,169,-1.6),(35.78,156.8,-1.35),(37.78,155.3,-2.1),(29.93,151.8,-2.4),(30.26,154.2,-2.5),(31.37,153.8,-2.2),(31.01,148.1,-1.75),(32.19,147.4,-2.3),(33.69,149.2,-1.6),(34.71,147.6,-2.3),(35.88,147.6,-2.5),(35.52,144.2,-2.0),(38.33,143.5,-1.8),(33.33,139,-2.2),(33.0,138.1,-2.6),(34.9,140.2,-2.3),(30.59,137.2,-2.0),(36.34,135,-2.6),(40.36,135.5,-2.5),(37.61,135.7,-0.4),(33.24,135.2,-2.6),(32.84,133.1,-2.6),(30.16,131.8,-2.3),(34.67,131.3,-1.95),(38.4,129.3,-2.8),(40.2,129.3,-2.1),(34.74,127.2,-2.7),(34.87,125.7,-1.3),(36.18,126.5,-1.7),(36.25,125,-2.0),(36.8,125.9,-1.5),(32.75,125.7,-2.9),(29.08,123.3,-2.8),(31.44,122.4,-2.6),(32.09,122,-2.3),(29.18,116.7,-2.8),(29.9,117.6,-2.9),(29.8,114.8,-2.9),(32.25,115.4,-2.2),(35.2,117,-2.8),(36.41,117,-2.5),(37.9,116.7,-2.5),(40.1,117.2,-2.4),(40.78,117,-2.7),(43.86,115.8,-3.0),(35.62,113.5,-2.7),(36.54,110.8,-3.0),(31.24,109.5,-2.4),(32.19,109.3,-2.8),(34.31,110.2,-2.2),(34.64,112.1,-2.7),(37.19,108.9,-2.7),(37.9,109.5,-1.9),(39.18,108.7,-2.5),(40.78,108.4,-2.9),(34.58,106.5,-0.6),(35.39,106.5,-2.6),(33.92,101.9,-1.5),(30.46,102.8,-1.85),(30.56,101.9,-2.7),(33.66,105.2,-2.6),(33.0,103,-2.6),(31.57,104.3,-2.9),(36.54,100.8,-1.15),(36.34,105.6,-2.9),(29.08,101,-3.0),(39.35,102.8,-2.9),(40.0,99.3,-3.0),(40.49,101.5,-3.1),(41.01,100.4,-3.0),(33.4,96,-2.5),(33.92,95.4,-1.6),(34.77,95.4,-1.4),(35.29,95.4,-2.4),(35.82,94.1,-2.3),(36.47,95.8,-1.4),(37.78,95.4,-1.1),(28.95,95.4,-2.9),(29.4,94.1,-2.9),(30.56,93,-2.9),(32.75,94.5,-2.9),(31.93,92.6,-2.7),(32.52,93,-2.9),(30.26,89.7,-3.0),(31.62,89.1,-2.8),(32.4,91.2,-2.8),(29.05,85.2,-2.9),(31.57,83.8,-2.3),(32.12,84.3,-2.9),(29.97,79.1,-3.1)]
b_side_2 = [(27.94,72.7,-3.1),(27.19,64,-2.4),(27.71,60.1,-3.2),(27.07,52.3,-3.0),(27.46,52.3,-3.0),(28.48,52.9,-3.7),(26.73,33.5,-3.2),(27.64,38.6,-3.6),(28.3,42.5,-3.8),(26.7,27.4,-3.9),(27.73,15.9,-3.5),(26.04,12.8,-3.9),(26.3,10.7,-3.9),(27.2,27.8,-3.8),(28.1,24.4,-3.6),(28.5,20.3,-3.6),(28.7,33.6,-3.5),(27.9,10.7,-3.7),(28.4,7.9,-3.7),
 (43.7,90.2,-3.1),(44.2,90.8,-3.1),(44.46,89.1,-2.9),(42.25,88.9,-3.5),(41.76,88.4,-3.0),(41.27,88.4,-3.1),(42.84,86.2,-3.1),(42.45,83.4,-3.1),(42.74,80.6,-3.1),(43.16,83.4,-3.1),(43.49,81.5,-3.0),(44.08,82.8,-3.0),(41.76,71.7,-2.6),(43.2,73.6,-3.1),(43.07,70.5,-3.2),(42.25,68.2,-3.1),(42.97,66.8,-3.0),(44.28,65.8,-3.1),(44.58,65.5,-3.3),(42.15,64,-3.0),(42.97,63.1,-2.8),(42.81,57.5,-3.1),(43.46,57.9,-3.2),(43.96,57.9,-3.4),(42.0,56.6,-2.9),(45.1,49.7,-3.1),(43.6,55.7,-3.4),(43.2,54.2,-3.3),(42.15,48.3,-3.4),(43.86,45.5,-3.8),(43.3,42.7,-3.7),(42.64,41.8,-3.5),(44.05,37.7,-3.3),(44.31,36.8,-3.6),(43.2,34.4,-3.1),(42.97,31.6,-3.0),(43.69,28.8,-2.7),(44.9,27.9,-3.3),(45.26,25.7,-3.9),(42.64,26.1,-3.4),(43.92,23.9,-3.7),(43.46,22.9,-3.8),(43.13,12.8,-3.4),(42.48,22.4,-3.9)]
b_band_2 = [(33.4,88.6,-3.1),(34.1,90.3,-3.2),(34.7,86.4,-3.1),(35.3,89.1,-3.0),(35.9,87.6,-3.2),(36.5,90.4,-3.1),(37.1,88.2,-3.0),(37.8,90.6,-2.9),(38.4,86.7,-3.1),(38.9,91.2,-3.1),(39.5,88.7,-3.2),(40.1,90.4,-3.0),(40.7,87.1,-3.2),(41.1,92.3,-3.2),(39.8,95.1,-3.1),
 (32.8,82.6,-3.2),(33.5,80.3,-3.1),(34.0,83.7,-2.4),(34.5,81.2,-0.9),(34.9,78.7,-3.2),(35.5,82.8,-2.9),(35.9,80.4,-3.1),(36.4,84.1,-2.4),(36.9,81.7,-3.1),(37.3,79.2,-2.7),(37.9,83.6,-3.1),(38.5,80.9,-3.2),(39.0,84.7,-3.2),(39.6,79.8,-3.2),(40.2,83.1,-3.1),(40.7,78.7,-3.3),(41.2,82.2,-3.1),(37.4,76.2,-1.2),
 (31.3,75.1,-3.2),(32.0,74.4,-3.2),(32.6,72.3,-3.1),(33.2,76.8,-3.0),(33.9,73.4,-3.0),(34.5,75.6,-2.9),(35.1,72.1,-3.1),(35.7,76.3,-2.4),(36.3,73.2,-3.1),(36.9,75.4,-3.0),(37.6,71.8,-3.1),(38.2,74.9,-2.4),(38.7,72.4,-3.1),(39.3,76.6,-3.1),(39.9,73.1,-3.2),(40.4,75.2,-3.1),(41.0,71.7,-3.2),(35.8,71.2,-1.5),(36.8,68.3,-1.6),
 (29.6,70.6,-3.1),(30.2,72.2,-3.1),(30.7,68.4,-3.0),(31.2,66.3,-3.2),(31.8,69.1,-3.0),(32.5,65.2,-3.2),(33.1,67.4,-3.1),(33.7,64.7,-3.3),(34.3,68.2,-3.0),(34.9,65.1,-3.2),(35.4,67.9,-3.1),(36.0,64.2,-2.4),(36.6,66.1,-2.3),(37.2,62.9,-3.1),(37.8,67.4,-3.1),(38.4,64.3,-3.2),(38.9,67.1,-3.2),(39.4,62.7,-3.2),(40.0,65.6,-3.1),(40.5,63.1,-3.3),(41.0,66.6,-3.2),(41.5,62.4,-3.3),
 (28.9,59.1,-3.0),(29.4,61.2,-3.1),(30.1,60.4,-3.2),(30.6,57.3,-3.2),(31.1,59.9,-3.0),(31.7,57.1,-3.1),(32.3,60.2,-2.8),(32.9,57.4,-3.0),(33.5,59.4,-3.2),(34.1,55.6,-2.9),(34.7,58.7,-3.1),(35.3,56.1,-2.9),(35.9,59.6,-3.1),(36.5,55.1,-3.1),(37.1,58.3,-2.9),(37.7,55.4,-3.0),(38.3,59.2,-3.1),(38.9,55.8,-2.9),(39.5,58.2,-3.2),(40.1,55.2,-3.2),(40.7,59.3,-3.3),(41.3,55.7,-3.2),(41.9,58.6,-3.3),
 (28.4,49.7,-3.3),(28.8,47.8,-3.4),(29.3,50.6,-3.3),(29.7,48.2,-3.2),(30.2,46.3,-3.4),(30.8,50.2,-3.4),(31.4,47.1,-3.0),(31.9,51.2,-3.2),(32.5,47.6,-3.1),(33.1,50.7,-3.1),(33.7,46.4,-2.5),(34.3,49.8,-3.3),(34.8,46.6,-3.1),(35.4,50.9,-3.0),(36.0,47.2,-3.1),(36.6,50.3,-2.5),(37.2,46.2,-3.1),(37.8,49.6,-3.2),(38.4,46.9,-3.0),(39.0,50.2,-3.1),(39.6,46.4,-2.3),(40.2,49.4,-3.0),(40.8,46.3,-3.1),(41.4,49.7,-3.2),(41.9,46.8,-3.4),
 (28.3,38.9,-3.5),(28.8,41.4,-3.5),(29.3,37.8,-3.3),(29.8,40.7,-3.2),(30.3,38.3,-3.4),(30.8,41.8,-3.2),(31.2,37.4,-3.0),(31.8,40.9,-3.4),(32.3,37.2,-2.9),(32.8,41.3,-3.2),(33.4,37.9,-3.3),(34.0,40.7,-2.8),(34.6,38.1,-2.6),(35.1,41.6,-3.3),(35.6,37.1,-3.3),(36.1,40.9,-1.8),(36.7,38.1,-3.2),(37.2,41.3,-3.3),(37.8,37.6,-3.2),(38.4,40.6,-3.4),(38.9,37.2,-3.3),(39.5,41.2,-3.3),(40.1,38.4,-3.3),(40.7,41.3,-3.4),(41.2,37.6,-3.4),
 (27.9,31.2,-3.6),(28.4,29.4,-3.5),(28.9,32.3,-3.6),(29.4,28.1,-3.6),(29.8,31.4,-3.5),(30.3,26.6,-3.6),(30.7,30.2,-3.4),(31.2,33.1,-3.4),(31.7,27.8,-3.5),(32.2,31.6,-3.3),(32.7,28.1,-3.3),(33.2,32.9,-3.4),(33.7,27.3,-3.4),(34.2,30.6,-2.6),(34.7,33.3,-3.3),(35.2,28.4,-3.4),(35.7,31.1,-3.4),(36.2,32.8,-1.8),(36.7,27.4,-3.3),(37.2,30.9,-3.3),(37.7,33.4,-3.4),(38.3,28.2,-3.5),(38.8,31.6,-3.5),(39.3,27.8,-3.4),(39.8,30.7,-2.8),(40.3,33.6,-3.5),(40.8,28.1,-3.5),(41.3,31.3,-3.5),(41.8,27.9,-3.4),(34.9,24.1,-1.9),(30.8,25.4,-2.7),
 (28.3,22.7,-3.6),(28.7,20.1,-3.6),(29.2,23.8,-3.7),(29.6,18.4,-3.7),(30.0,21.9,-3.6),(30.5,17.1,-3.6),(30.9,23.6,-3.5),(31.4,19.2,-3.5),(31.9,22.7,-3.6),(32.4,17.8,-3.6),(32.9,21.8,-3.5),(33.3,24.6,-3.6),(33.8,18.6,-3.5),(34.3,22.4,-3.6),(34.8,17.1,-3.6),(35.3,21.3,-3.5),(35.8,24.2,-3.6),(36.3,18.9,-3.6),(36.8,22.6,-3.5),(37.3,17.7,-3.5),(37.8,23.8,-3.5),(38.3,19.3,-3.6),(38.8,21.9,-3.5),(39.3,17.2,-3.6),(39.8,23.3,-3.6),(40.3,19.4,-3.6),(40.8,22.2,-3.5),(41.3,18.7,-3.6),(41.8,21.8,-3.4),(36.6,25.7,-2.5),
 (28.6,14.3,-3.7),(29.0,11.7,-3.7),(29.4,15.4,-3.7),(29.8,9.4,-3.6),(30.1,13.1,-3.7),(30.3,9.8,-3.7),(30.5,15.6,-3.6),(30.7,11.2,-3.7),(30.9,8.6,-3.7),(31.1,13.7,-3.7),(31.3,10.1,-3.7),(31.5,7.2,-3.7),(31.8,15.3,-3.6),(32.1,9.8,-3.6),(32.5,13.1,-3.6),(32.9,8.3,-3.6),(33.3,15.1,-3.6),(33.7,10.3,-3.6),(34.2,13.9,-3.6),(34.6,8.7,-3.7),(35.1,11.9,-3.6),(35.6,15.7,-3.6),(36.1,9.9,-3.5),(36.6,12.8,-3.6),(37.1,8.9,-3.6),(37.6,15.6,-3.6),(38.1,10.3,-3.7),(38.6,13.4,-3.6),(39.1,8.6,-3.6),(39.6,12.2,-3.6),(40.1,15.1,-3.6),(40.5,9.4,-3.6),(40.9,13.3,-3.5),(41.3,6.7,-3.6),(40.0,5.6,-3.6),(38.7,4.2,-3.7),(36.8,6.6,-3.6),(33.8,5.9,-3.6),(31.9,6.1,-3.5),(29.4,5.1,-3.7)]
b_extra_2 = [(33.1,85.3,-3.3),(33.7,86.8,-3.2),(34.35,87.7,-3.3),(34.95,84.6,-3.2),(35.6,85.7,-3.3),(36.2,86.9,-3.2),(36.75,85.1,-3.2),(37.45,86.3,-3.3),(38.1,84.2,-3.2),(38.65,85.6,-3.3),(39.25,83.9,-3.3),(39.85,86.4,-3.3),(40.45,85.2,-3.2),(41.0,85.9,-3.4),(41.45,85.1,-3.4),
 (31.7,73.1,-3.3),(32.3,77.6,-3.3),(32.95,78.9,-3.3),(33.55,77.8,-3.2),(34.2,71.3,-3.2),(34.8,76.8,-3.3),(35.4,75.1,-3.3),(36.05,70.3,-3.2),(36.6,78.1,-3.2),(37.25,72.7,-3.3),(37.9,78.6,-3.2),(38.5,70.9,-3.3),(39.05,78.2,-3.3),(39.65,69.2,-3.3),(40.25,78.9,-3.3),(40.85,75.1,-3.3),(41.4,73.6,-3.4),
 (30.45,64.1,-3.3),(31.0,62.6,-3.3),(31.5,64.3,-3.3),(32.15,63.1,-3.3),(32.75,61.8,-3.2),(33.4,62.9,-3.3),(34.0,61.3,-3.2),(34.6,62.7,-3.2),(35.2,63.4,-3.2),(35.8,61.9,-3.2),(36.3,63.1,-3.3),(36.9,60.7,-3.2),(37.5,64.8,-3.3),(38.1,61.1,-3.3),(38.65,62.7,-3.2),(39.2,65.3,-3.3),(39.75,61.6,-3.3),(40.3,60.2,-3.3),(40.8,61.8,-3.3),(41.25,60.3,-3.4),
 (29.2,54.2,-3.4),(29.8,56.2,-3.3),(30.4,53.7,-3.3),(30.95,55.4,-3.4),(31.55,53.4,-3.2),(32.1,54.9,-3.3),(32.7,52.6,-3.1),(33.3,55.3,-3.3),(33.9,53.1,-3.3),(34.5,54.4,-3.2),(35.1,52.7,-3.3),(35.7,54.3,-3.2),(36.3,52.6,-3.3),(36.85,53.9,-3.2),(37.45,52.2,-3.3),(38.05,53.6,-3.3),(38.65,52.4,-3.2),(39.25,53.8,-3.3),(39.85,52.3,-3.3),(40.45,53.4,-3.3),(41.05,52.9,-3.3),(41.6,54.1,-3.4),
 (28.55,44.3,-3.5),(29.1,43.6,-3.5),(29.55,45.7,-3.5),(30.0,43.9,-3.5),(30.55,44.7,-3.4),(31.05,43.7,-3.4),(31.6,45.2,-3.4),(32.2,44.1,-3.4),(32.75,45.7,-3.4),(33.3,43.9,-3.4),(33.85,44.6,-3.4),(34.45,43.4,-3.4),(35.0,44.8,-3.3),(35.55,43.6,-3.4),(36.2,44.4,-3.4),(36.8,43.1,-3.4),(37.4,44.6,-3.3),(38.0,43.3,-3.4),(38.6,44.7,-3.4),(39.2,43.4,-3.3),(39.8,44.9,-3.4),(40.4,43.2,-3.4),(41.0,44.1,-3.4),(41.6,42.9,-3.5),
 (28.1,35.4,-3.7),(28.55,34.7,-3.7),(29.0,35.9,-3.7),(29.5,34.2,-3.6),(30.0,35.4,-3.6),(30.45,33.9,-3.6),(30.95,35.7,-3.6),(31.5,34.4,-3.6),(32.05,35.8,-3.5),(32.55,33.9,-3.6),(33.05,35.2,-3.6),(33.55,34.1,-3.5),(34.05,35.4,-3.6),(34.5,34.2,-3.6),(35.0,35.6,-3.6),(35.5,34.4,-3.5),(36.0,35.8,-3.6),(36.45,34.1,-3.5),(36.95,35.3,-3.6),(37.5,34.6,-3.6),(38.05,35.7,-3.5),(38.55,33.9,-3.6),(39.05,35.2,-3.6),(39.6,34.3,-3.6),(40.15,35.6,-3.6),(40.6,33.7,-3.6),(41.15,34.8,-3.6),(41.7,33.4,-3.6),
 (28.05,26.4,-3.8),(28.5,24.9,-3.8),(28.95,26.7,-3.8),(29.35,24.1,-3.8),(29.75,26.3,-3.8),(30.15,24.6,-3.8),(30.55,25.7,-3.8),(31.0,27.1,-3.8),(31.45,25.1,-3.8),(31.95,26.4,-3.8),(32.45,24.4,-3.8),(32.95,26.1,-3.7),(33.45,24.8,-3.8),(33.95,26.1,-3.8),(34.45,25.1,-3.8),(35.05,26.7,-3.8),(35.5,24.4,-3.8),(36.05,26.3,-3.8),(36.45,25.3,-3.8),(36.95,24.7,-3.8),(37.5,26.4,-3.8),(38.05,24.9,-3.8),(38.55,26.6,-3.8),(39.05,24.7,-3.8),(39.55,25.9,-3.8),(40.05,24.6,-3.8),(40.55,26.4,-3.8),(41.05,24.9,-3.8),(41.55,25.8,-3.7),
 (28.5,17.2,-3.8),(28.9,15.9,-3.8),(29.3,19.7,-3.8),(29.7,14.2,-3.8),(30.1,17.8,-3.9),(30.4,12.2,-3.9),(30.6,19.2,-3.8),(30.85,14.1,-3.9),(31.05,10.4,-3.9),(31.2,16.9,-3.8),(31.45,12.6,-3.9),(31.65,9.3,-3.9),(31.9,18.9,-3.8),(32.25,13.4,-3.8),(32.7,16.6,-3.8),(33.1,10.9,-3.8),(33.5,19.4,-3.8),(33.95,12.4,-3.8),(34.45,16.3,-3.8),(34.9,11.2,-3.8),(35.4,17.9,-3.8),(35.9,13.2,-3.8),(36.4,20.3,-3.8),(36.9,15.1,-3.8),(37.4,10.4,-3.8),(37.9,18.4,-3.8),(38.4,12.7,-3.8),(38.9,16.1,-3.8),(39.4,10.8,-3.8),(39.9,18.1,-3.8),(40.4,13.6,-3.8),(40.7,18.7,-3.8),(41.1,10.9,-3.8),(41.6,15.2,-3.7),
 (30.2,7.3,-3.8),(30.5,6.4,-3.8),(30.75,8.9,-3.9),(31.0,6.7,-3.8),(31.25,8.1,-3.9),(31.45,5.6,-3.8),(31.7,7.9,-3.9),(32.3,6.9,-3.7),(33.0,6.6,-3.7),(34.0,7.6,-3.7),(35.0,6.7,-3.7),(36.0,7.4,-3.7),(37.4,5.9,-3.7),(38.4,7.2,-3.7),(39.4,5.9,-3.7),(40.4,6.7,-3.7),(29.0,7.6,-3.7),(29.7,6.2,-3.7),(28.6,9.3,-3.8)]

font_list = ["cmr10", "DejaVu Serif"]
caption_title = "Fig. 2"
caption_first = ": Bedretto hydraulic"
caption_lines = ["stimulation data from: a)",
                 "M\u200aa\u200ar\u200ac\u200ah 2\u200a0\u200a2\u200a2 (V\u200aa\u200al\u200at\u200ae\u200ar",
                 "phase 1 interval 13), and",
                 "b) J\u200au\u200an\u200ae 2\u200a0\u200a2\u200a2 (V\u200aa\u200al\u200at\u200ae\u200ar",
                 "p\u200ah\u200aa\u200as\u200ae 2 i\u200an\u200at\u200ae\u200ar\u200av\u200aa\u200al 8).",
                 "Injected flow rate (blue),",
                 "recorded pressure (red),",
                 "seismicity rate (events",
                 "per 15 min in a), events",
                 "per hour in b)) bar plot",
                 "(gray) and scatter plot of",
                 "the events (above Mc)",
                 "with time and distance",
                 "from the injection point.",
                 "The colors and the size",
                 "o\u200af t\u200ah\u200ae s\u200ac\u200aa\u200at\u200at\u200ae\u200ar p\u200ao\u200ai\u200an\u200at\u200as",
                 "indicate the magnitude of",
                 "the events (dark red and",
                 "larger scatter points for",
                 "larger magnitudes)."]

sns.set_theme(style="white")
plt.rcParams["font.family"] = font_list
plt.rcParams["axes.unicode_minus"] = False
plt.rcParams["mathtext.fontset"] = "cm"

W, H = 1722, 1200
fig = plt.figure(figsize=(W / 100, H / 100), dpi=100, facecolor="white")

lajolla = LinearSegmentedColormap.from_list("magnitude_map", [
    (0.0, "#fffac2"), (0.05, "#fbeea0"), (0.14, "#f5d46c"), (0.24, "#ecb256"),
    (0.36, "#e39a50"), (0.527, "#cf6a4a"), (0.6, "#b04d43"), (0.694, "#8c3f3b"),
    (0.833, "#4d2b20"), (0.92, "#32230f"), (1.0, "#1f1b08")])

BLUE, RED, GRAY, DGRAY = "#0000ff", "#ff0000", "#a0a0a0", "#333333"
TICK_FS, LAB_FS = 10.6, 13


def frame(left, top, right, bottom):
    return [left / W, 1 - bottom / H, (right - left) / W, (bottom - top) / H]


def style_axis(axis, color, size=TICK_FS):
    axis.tick_params(axis="y", colors=color, labelsize=size, length=3, width=0.8, pad=2)


def panel(rect, xlim, xticks, flowlim, flowticks, flow, pres, plim, pticks, edges, counts,
          evlim, evticks, dlim, dticks, ev_spine_px, events, vlim, sizes, cb_rect, cb_ticks,
          time_label_px, flow_label_px):
    left, top, right, bottom = rect
    width = right - left
    ax = fig.add_axes(frame(*rect))
    ax.set_facecolor("white")
    ax_p = ax.twinx()
    ax_e = ax.twinx()
    ax_d = ax.twinx()
    for a in (ax_p, ax_e, ax_d):
        a.patch.set_visible(False)

    sns.lineplot(x=flow[0], y=flow[1], sort=False, estimator=None, color=BLUE, lw=1.5, ax=ax)
    sns.lineplot(x=pres[0], y=pres[1], sort=False, estimator=None, color=RED, lw=1.5, ax=ax_p)
    edges = np.array(edges)
    centers = (edges[:-1] + edges[1:]) / 2
    counts = np.array(counts, dtype=float)
    sns.barplot(x=centers, y=counts, native_scale=True, width=1, color="#7a7a7a",
                saturation=1, alpha=0.5, edgecolor="#7a7a7a", linewidth=0.3, errorbar=None, ax=ax_e)
    frame_ev = pd.DataFrame(events, columns=["t", "d", "m"])
    norm = Normalize(*vlim)
    sns.scatterplot(data=frame_ev, x="t", y="d", hue="m", hue_norm=norm, palette=lajolla,
                    size="m", size_norm=norm, sizes=sizes, edgecolor="#0c0c0c", linewidth=0.85,
                    alpha=0.95, legend=False, ax=ax_d, zorder=5)

    ax.set_xlim(*xlim); ax.set_ylim(*flowlim)
    ax_p.set_ylim(*plim); ax_e.set_ylim(*evlim); ax_d.set_ylim(*dlim)
    ax.set_xticks(xticks); ax.set_yticks(flowticks); ax_p.set_yticks(pticks)
    ax_e.set_yticks(evticks); ax_d.set_yticks(dticks)
    ax.tick_params(axis="x", colors="#333333", labelsize=TICK_FS, length=3, width=0.8, pad=2, bottom=True)
    style_axis(ax, "#3d3dff"); style_axis(ax_p, "#ff3a3a"); style_axis(ax_e, GRAY); style_axis(ax_d, DGRAY)
    ax.yaxis.set_ticks_position("left")
    for a in (ax_p, ax_d):
        a.yaxis.tick_right()
    ax_e.yaxis.tick_left()
    for a in (ax, ax_p, ax_e, ax_d):
        a.grid(False)
        for s in a.spines.values():
            s.set_visible(False)
    for side in ("left", "right", "top", "bottom"):
        ax.spines[side].set_visible(True)
        ax.spines[side].set_color("#111111")
        ax.spines[side].set_linewidth(1.2)
    ax_e.spines["left"].set_visible(True)
    ax_e.spines["left"].set_position(("axes", (ev_spine_px - left) / width))
    ax_e.spines["left"].set_color("#111111")
    ax_e.spines["left"].set_linewidth(1.0)
    ax_d.spines["right"].set_visible(True)
    ax_d.spines["right"].set_position(("axes", (1106.5 - left) / width))
    ax_d.spines["right"].set_color("#444444")
    ax_d.spines["right"].set_linewidth(1.0)

    ax.set_xlabel("Time [hours] from injection", color="#333333", fontsize=LAB_FS)
    ax.xaxis.set_label_coords((time_label_px[0] - left) / width, 1 - (time_label_px[1] - top) / (bottom - top))
    ax.set_ylabel("Flow rate [L/min]", color="#3d3dff", fontsize=LAB_FS)
    ax.yaxis.set_label_coords((flow_label_px - left) / width, 0.5)
    ax_p.set_ylabel("Pressure [MPa]", color="#ff3a3a", fontsize=LAB_FS, rotation=90)
    ax_p.yaxis.set_label_position("right")
    ax_p.yaxis.set_label_coords((1067 - left) / width, 0.5)
    ax_d.set_ylabel("Distance [m] from injection", color="#333333", fontsize=LAB_FS, rotation=90)
    ax_d.yaxis.set_label_position("right")
    ax_d.yaxis.set_label_coords((1141 - left) / width, 0.5)
    ax_e.set_ylabel("")
    ax_e.set_xlabel("")

    cax = fig.add_axes(frame(*cb_rect))
    cb = fig.colorbar(ScalarMappable(norm=norm, cmap=lajolla), cax=cax)
    cb.set_ticks(cb_ticks)
    cb.set_ticklabels([f"${v:.1f}$" for v in cb_ticks])
    cb.ax.tick_params(labelsize=TICK_FS, colors=DGRAY, length=3, width=0.8, pad=2)
    cb.outline.set_edgecolor("#555555")
    cb.outline.set_linewidth(1.0)
    cb.set_label("Magnitude", color="#333333", fontsize=LAB_FS * 0.97)
    cb.ax.yaxis.set_label_coords((1251 - cb_rect[0]) / (cb_rect[2] - cb_rect[0]), 0.5)


a_events = a_upper_1 + a_upper_2 + a_mid_1 + a_mid_2 + a_low_1 + a_low_2 + a_extra_1 + a_extra_2
panel((108, 39.5, 1041, 555.6), (0, 10), [0, 2, 4, 6, 8, 10], (0, 160), list(range(0, 161, 20)),
      (a_flow_t, a_flow_q), (a_pres_t, a_pres_p), (0, 12), list(range(0, 13, 2)),
      a_bin_edges, a_bin_counts, (0, 1260), list(range(0, 1201, 200)),
      (0, 220.3), list(range(0, 201, 25)), 43, a_events, (-4.084, -1.08), (5, 100),
      (1181.5, 49.8, 1207, 544.6), [-4.0, -3.5, -3.0, -2.5, -2.0, -1.5], (574, 579), 76)

b_events = (b_strong_1 + b_strong_2 + b_mid_1 + b_tail_1 + b_side_2 + b_band_1 + b_band_2
            + b_dense_1 + b_extra_1 + b_extra_2)
panel((100, 625.6, 1040, 1143.8), (0, 60), list(range(0, 61, 10)), (0, 205.3), list(range(0, 201, 25)),
      (b_flow_t, b_flow_q), (b_pres_t, b_pres_p), (0, 18), list(range(0, 19, 2)),
      b_bin_edges, b_bin_counts, (0, 840), list(range(0, 801, 100)),
      (0, 250.4), list(range(0, 251, 50)), 34.6, b_events, (-4.09, -0.35), (6, 95),
      (1180.5, 635.6, 1205.5, 1133), [-4.0, -3.5, -3.0, -2.5, -2.0, -1.5, -1.0, -0.5], (570, 1168), 68)

# outer labels, cut by the figure edge as in the reference
fig.text(0, 1 - 370 / H, "Seismicity rate [-]", rotation=90, rotation_mode="anchor",
         ha="left", va="baseline", color=GRAY, fontsize=LAB_FS)
fig.text(0, 1 - 956 / H, "Seismicity rate [-]", rotation=90, rotation_mode="anchor",
         ha="left", va="baseline", color=GRAY, fontsize=LAB_FS)
fig.text(10 / W, 1 - 38 / H, "a)", ha="right", va="baseline", color="#222222", fontsize=LAB_FS)
fig.text(6 / W, 1 - 628 / H, "b)", ha="right", va="baseline", color="#222222", fontsize=LAB_FS)

# caption, justified by widening the word gaps
cap_font = ["Liberation Sans", "DejaVu Sans"]
CAP_FS = 26.8
CAP_X = 1313
CAP_Y0 = 164.5
CAP_STEP = 44.75
CAP_RIGHT = 1730
renderer = fig.canvas.get_renderer()


def justify(text_obj, line, target_px):
    words = line.split(" ")
    gaps = [" "] * (len(words) - 1)
    if not gaps:
        return
    for k in range(60):
        text_obj.set_text("".join(w + g for w, g in zip(words, gaps + [""])))
        if text_obj.get_window_extent(renderer).x1 >= target_px:
            break
        gaps[k % len(gaps)] += "\u200a"


t0 = fig.text(CAP_X / W, 1 - CAP_Y0 / H, caption_title, ha="left", va="baseline", fontsize=CAP_FS,
              style="italic", weight="bold", family=cap_font, color="#111111")
first_x = t0.get_window_extent(renderer).x1
t1 = fig.text(first_x / W, 1 - CAP_Y0 / H, caption_first, ha="left", va="baseline", fontsize=CAP_FS,
              style="italic", family=cap_font, color="#111111")
justify(t1, caption_first, CAP_RIGHT)
for i, line in enumerate(caption_lines, start=1):
    tx = fig.text(CAP_X / W, 1 - (CAP_Y0 + CAP_STEP * i) / H, line, ha="left", va="baseline",
                  fontsize=CAP_FS, style="italic", family=cap_font, color="#111111")
    if i < len(caption_lines):
        justify(tx, line, CAP_RIGHT)

fig.savefig("out.png", dpi=100, facecolor="white")
